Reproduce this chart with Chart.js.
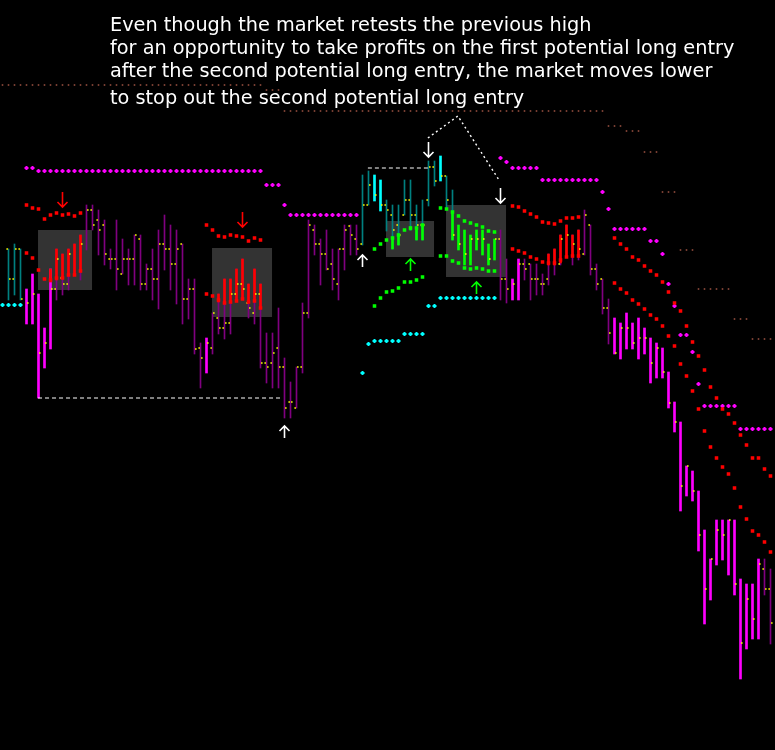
<!DOCTYPE html>
<html><head><meta charset="utf-8">
<script src="https://cdn.jsdelivr.net/npm/chart.js@4"></script>
<style>
html,body{margin:0;padding:0;background:#000;}
#wrap{position:relative;width:775px;height:750px;background:#000;overflow:hidden;}
canvas{position:absolute;left:0;top:0;}
.note{position:absolute;left:110px;color:#fff;font-family:"DejaVu Sans",sans-serif;font-size:19.3px;line-height:19px;white-space:nowrap;}
</style></head><body>
<div id="wrap"><canvas id="c" width="775" height="750"></canvas>
<div class="note" style="top:15px">Even though the market retests the previous high</div>
<div class="note" style="top:38px">for an opportunity to take profits on the first potential long entry</div>
<div class="note" style="top:61px">after the second potential long entry, the market moves lower</div>
<div class="note" style="top:88px">to stop out the second potential long entry</div>
</div>
<script>
// ---------- DATA (price units) ----------
// bar state: T = weak up, C = strong up, P = weak down, M = strong down, G = long signal
const barState = ('TTT'+'MMMMM'+'PPPPPPPPPPPPPPPPPPPPPPPPP'+'M'+'PPPPPPPPPPPPPPPPPPPPPPPPP'+'TT'+'CC'+'TTTTTTTTT'+'C'+'TT'+'GGGGGGG'+'PP'+'MM'+'PPPPPPPPPPPPPPP'+'MMMMMMMMMMMMMMMMMMMMMMMMM'+'PP').split('');
const barHigh = [501,506,501,461,476,456,422,481,501,496,
 501,506,515,545,545,540,530,501,530,511,
 501,515,515,486,501,520,535,525,520,506,
 471,471,407,412,437,456,471,471,481,491,
 466,481,466,417,417,442,392,368,383,447,
 530,525,511,520,501,501,525,525,525,575,
 579,575,570,550,545,545,570,570,545,550,
 589,589,594,574,560,525,520,515,520,520,
 506,511,520,491,471,491,491,486,486,476,
 496,501,515,525,515,520,540,525,486,471,
 451,432,427,437,427,432,422,412,407,402,
 378,348,328,284,279,259,220,191,230,230,
 230,230,171,166,166,191,191,181];
const barLow = [450,455,450,426,426,352,382,401,450,455,
 460,475,470,500,520,495,485,481,460,476,
 465,465,460,460,450,441,480,460,446,426,
 431,396,362,377,396,416,411,416,449,451,
 432,426,382,367,362,362,332,332,342,377,
 432,495,465,480,460,450,480,495,495,505,
 545,549,539,519,501,505,535,520,510,510,
 544,564,569,541,510,500,485,485,500,495,
 485,490,450,447,450,450,470,450,455,455,
 465,475,485,493,485,490,495,475,460,436,
 406,396,391,401,401,391,396,367,372,372,
 342,318,239,254,249,199,126,150,185,190,
 175,155,71,101,111,111,155,106];
const barOpen = [501,471,501,null,null,null,null,null,461,472,
 466,null,null,null,540,530,525,491,491,476,
 491,491,511,466,481,471,506,501,486,506,
 451,461,402,null,402,432,422,427,456,466,
 447,437,456,387,387,402,383,348,342,383,
 437,520,506,496,486,466,501,524,511,506,
 545,null,null,545,535,525,535,550,535,525,
 550,583,null,574,null,null,null,null,null,null,
 null,null,511,471,null,null,486,486,471,466,
 471,null,486,null,null,null,496,525,481,471,
 442,null,null,null,null,null,null,null,null,null,
 null,null,null,null,null,null,null,null,null,null,
 null,null,null,null,null,null,181,161];
const barClose = [471,501,451,447,456,397,407,461,491,466,
 496,null,506,540,525,520,496,491,481,491,
 491,515,466,481,471,506,501,486,501,451,
 461,401,392,407,437,422,427,456,466,461,
 442,456,387,383,397,383,342,348,383,437,
 525,506,496,481,471,501,520,515,501,545,
 565,555,545,540,520,515,550,535,525,525,
 583,569,574,550,515,506,496,511,511,511,
 491,511,471,461,466,486,481,471,471,466,
 null,null,511,515,506,501,535,481,466,442,
 417,397,422,422,407,412,412,387,402,378,
 347,328,264,284,259,215,161,191,220,215,
 230,166,107,151,131,186,161,127];
// highlighted (signal) portions of bars
const redHlIdx  = [7,8,9,10,11,12,35,36,37,38,39,40,41,42,90,91,92,93,94,95];
const redHlLow  = [468,470,472,475,475,478,448,447,448,449,451,448,449,442,485,485,487,493,493,493];
const redHlHigh = [481,501,496,501,506,515,456,471,471,481,491,466,481,466,496,501,515,525,515,520];
const greenHlIdx  = [64,65,67,68,69,74];
const greenHlLow  = [501,505,520,510,510,510];
const greenHlHigh = [513,516,523,522,525,538];
// envelope bands: [first bar index, values]
const redUpper = [[3,[545,542,541,531,535,537,535,536,534,537]],
 [33,[525,520,514,513,515,514,513,509,512,510]],
 [84,[544,543,539,536,533,528,527,526,529,532,532,533]],
 [101,[512,506,501,493,490,484,479,475,468,458,447,439,424,408,394,380,363,352,341,336,327,315,305,292,292,281,274]]];
const redLower = [[3,[497,492,480,471,470,472,472,475,475,479]],
 [33,[456,454,450,447,448,449,451,448,449,442]],
 [84,[501,499,497,493,491,488,487,487,490,493,494,494]],
 [101,[467,461,457,450,446,441,435,431,424,414,404,386,374,359,341,319,303,292,283,276,262,243,231,219,215,208,198]]];
const greenUpper = [[61,[501,506,510,512,515,520,522,522,525]],[72,[542,541,538,534,529,527,525,523,519,518]]];
const greenLower = [[61,[444,452,458,459,462,468,468,470,473]],[72,[494,494,489,487,482,481,482,481,479,479]]];
// stop levels: [from bar, to bar, level]
const magentaStops = [[3,4,582],[5,42,579],[43,45,565],[46,46,545],[47,58,535],[82,82,592],[83,83,588],[84,88,582],[89,98,570],[99,99,558],[100,100,541],[101,106,521],[107,108,509],[109,109,496],[110,110,466],[111,111,444],[112,113,415],[114,114,398],[115,115,366],[116,121,344],[122,127,321]];
const cyanStops = [[-1,2,445],[59,59,377],[60,60,406],[61,65,409],[66,69,416],[70,71,444],[72,81,452]];
const brownStops = [[-1,42,665],[43,45,660],[46,99,639],[100,102,624],[103,105,619],[106,108,598],[109,111,558],[112,114,500],[115,120,461],[121,123,431],[124,127,411]];
// annotations
const boxes = [[4.92,13.92,460,520],[33.92,43.92,433,502],[62.92,70.92,493,529],[72.92,82.92,473,545]];
const arrows = [[9,543,'down','short'],[39,523,'down','short'],[46,324,'up','note'],[59,495,'up','note'],[70,593,'down','note'],[82,547,'down','note'],[67,491,'up','long'],[78,468,'up','long']];
const lowLine = [[4.92,352],[45.4,352]];
const highLine = [[59.9,582],[69.9,582]];
const callout = [[69.9,612],[74.9,634],[81.75,570]];

// ---------- STYLE ----------
const stateStyle = {T:{c:'#008080',w:1},C:{c:'#00ffff',w:2},P:{c:'#800080',w:1},M:{c:'#ff00ff',w:2},G:{c:'#00ff00',w:2}};
const arrowColors = {short:'#ff0000', long:'#00ff00', note:'#ffffff'};

const datasets = [];
Object.keys(stateStyle).forEach(k=>{
  const d=[]; barState.forEach((s,i)=>{ if(s===k) d.push({x:i,y:[barLow[i],barHigh[i]]}); });
  datasets.push({type:'bar',data:d,backgroundColor:stateStyle[k].c,barThickness:stateStyle[k].w,grouped:false,borderWidth:0,order:20});
});
datasets.push({type:'bar',data:redHlIdx.map((i,j)=>({x:i,y:[redHlLow[j],redHlHigh[j]]})),backgroundColor:'#ff0000',barThickness:2,grouped:false,borderWidth:0,order:15});
datasets.push({type:'bar',data:greenHlIdx.map((i,j)=>({x:i,y:[greenHlLow[j],greenHlHigh[j]]})),backgroundColor:'#00ff00',barThickness:2,grouped:false,borderWidth:0,order:15});
const ticks=[];
barOpen.forEach((v,i)=>{ if(v!==null) ticks.push({x:i-0.22,y:v}); });
barClose.forEach((v,i)=>{ if(v!==null) ticks.push({x:i+0.22,y:v}); });
datasets.push({type:'scatter',data:ticks,pointStyle:'rect',pointRadius:1.1,pointBackgroundColor:'#ffff00',pointBorderWidth:0,order:10});
function segPoints(segs){const p=[];segs.forEach(([s,vals])=>vals.forEach((v,k)=>p.push({x:s+k,y:v})));return p;}
function runPoints(runs){const p=[];runs.forEach(([a,b,v])=>{for(let i=a;i<=b;i++)p.push({x:i,y:v});});return p;}
const dot=(data,color,style,r,bw)=>({type:'scatter',data,pointStyle:style,pointRadius:r,pointBackgroundColor:color,pointBorderColor:color,pointBorderWidth:bw,order:5});
datasets.push(dot(segPoints(redUpper),'#ff0000','rect',2.5,0));
datasets.push(dot(segPoints(redLower),'#ff0000','rect',2.5,0));
datasets.push(dot(segPoints(greenUpper),'#00ff00','rect',2.5,0));
datasets.push(dot(segPoints(greenLower),'#00ff00','rect',2.5,0));
datasets.push(dot(runPoints(magentaStops),'#ff00ff','cross',2,2));
datasets.push(dot(runPoints(cyanStops),'#00ffff','cross',2,2));
datasets.push(dot(runPoints(brownStops),'#9a5040','rect',1.1,0));
const dash=(pts,d,w)=>({type:'line',data:pts.map(([x,y])=>({x,y})),borderColor:'#ffffff',borderWidth:w,borderDash:d,pointRadius:0,fill:false,order:3});
datasets.push(dash(lowLine,[4,3],1));
datasets.push(dash(highLine,[4,3],1));
datasets.push(dash(callout,[2,3],1.4));

const boxPlugin={id:'boxes',beforeDatasetsDraw(chart){
  const {ctx,scales:{x,y}}=chart; ctx.save(); ctx.fillStyle='#333333';
  boxes.forEach(([a,b,lo,hi])=>{const x0=x.getPixelForValue(a),x1=x.getPixelForValue(b),y0=y.getPixelForValue(hi),y1=y.getPixelForValue(lo);ctx.fillRect(x0,y0,x1-x0,y1-y0);});
  ctx.restore();}};
const arrowPlugin={id:'arrows',afterDatasetsDraw(chart){
  const {ctx,scales:{x,y}}=chart; ctx.save(); ctx.lineWidth=1.6;
  arrows.forEach(([i,tip,dir,kind])=>{
    const px=x.getPixelForValue(i), py=y.getPixelForValue(tip);
    const len=dir==='down'?15:12, s=dir==='down'?-1:1;
    ctx.strokeStyle=arrowColors[kind]; ctx.beginPath();
    ctx.moveTo(px,py+s*len); ctx.lineTo(px,py);
    ctx.moveTo(px-5,py+s*5); ctx.lineTo(px,py); ctx.lineTo(px+5,py+s*5);
    ctx.stroke();});
  ctx.restore();}};

new Chart(document.getElementById('c'),{
  type:'bar',
  data:{datasets},
  options:{responsive:false,animation:false,devicePixelRatio:1,layout:{padding:0,autoPadding:false},
    plugins:{legend:{display:false},tooltip:{enabled:false},title:{display:false}},
    scales:{x:{type:'linear',min:-1.4167,max:127.75,display:false,offset:false,grid:{display:false}},
            y:{type:'linear',min:0,max:750,display:false}}},
  plugins:[boxPlugin,arrowPlugin]
});
</script>
</body></html>
